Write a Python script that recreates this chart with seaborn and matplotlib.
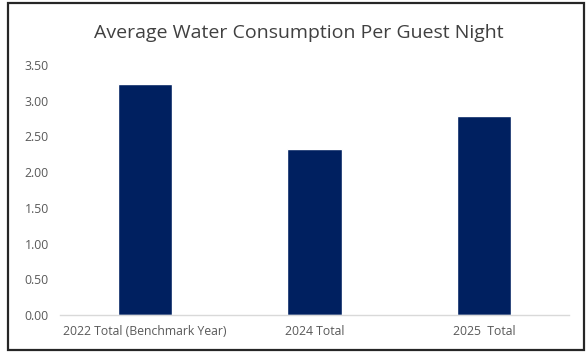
import matplotlib
matplotlib.use("Agg")
import matplotlib.pyplot as plt
import seaborn as sns
import pandas as pd
from matplotlib.patches import Rectangle

categories = ["2022 Total (Benchmark Year)", "2024 Total", "2025  Total"]
values = [3.23, 2.32, 2.78]
y_ticks = [0.0, 0.5, 1.0, 1.5, 2.0, 2.5, 3.0, 3.5]

sns.set_theme(style="white")
plt.rcParams["font.family"] = ["Open Sans", "DejaVu Sans"]

df = pd.DataFrame({"category": categories, "value": values})

fig = plt.figure(figsize=(5.86, 3.53), dpi=100)
ax = fig.add_axes([60 / 586, 1 - 315 / 353, 509 / 586, 250 / 353])

sns.barplot(data=df, x="category", y="value", color="#002060",
            width=0.32, saturation=1, ax=ax)

ax.set_xlim(-0.5, 2.5)
ax.set_ylim(0, 3.5)
ax.set_yticks(y_ticks)
ax.set_yticklabels([f"{t:.2f}" for t in y_ticks])
ax.set_xlabel("")
ax.set_ylabel("")
ax.tick_params(axis="both", length=0, labelsize=8.8, colors="#595959")
ax.tick_params(axis="y", pad=8)
ax.tick_params(axis="x", pad=7)
for side in ["top", "right", "left"]:
    ax.spines[side].set_visible(False)
ax.spines["bottom"].set_color("#d9d9d9")
ax.spines["bottom"].set_linewidth(1.0)
ax.grid(False)

fig.text(299 / 586, 1 - 33 / 353, "Average Water Consumption Per Guest Night",
         ha="center", va="center", fontsize=14, color="#404040")

# chart frame
fig.patches.append(Rectangle((8 / 586, 3 / 353), 576 / 586, 347 / 353,
                             transform=fig.transFigure, fill=False,
                             edgecolor="#262626", linewidth=1.6))

fig.savefig("out.png", dpi=100, facecolor="white")
